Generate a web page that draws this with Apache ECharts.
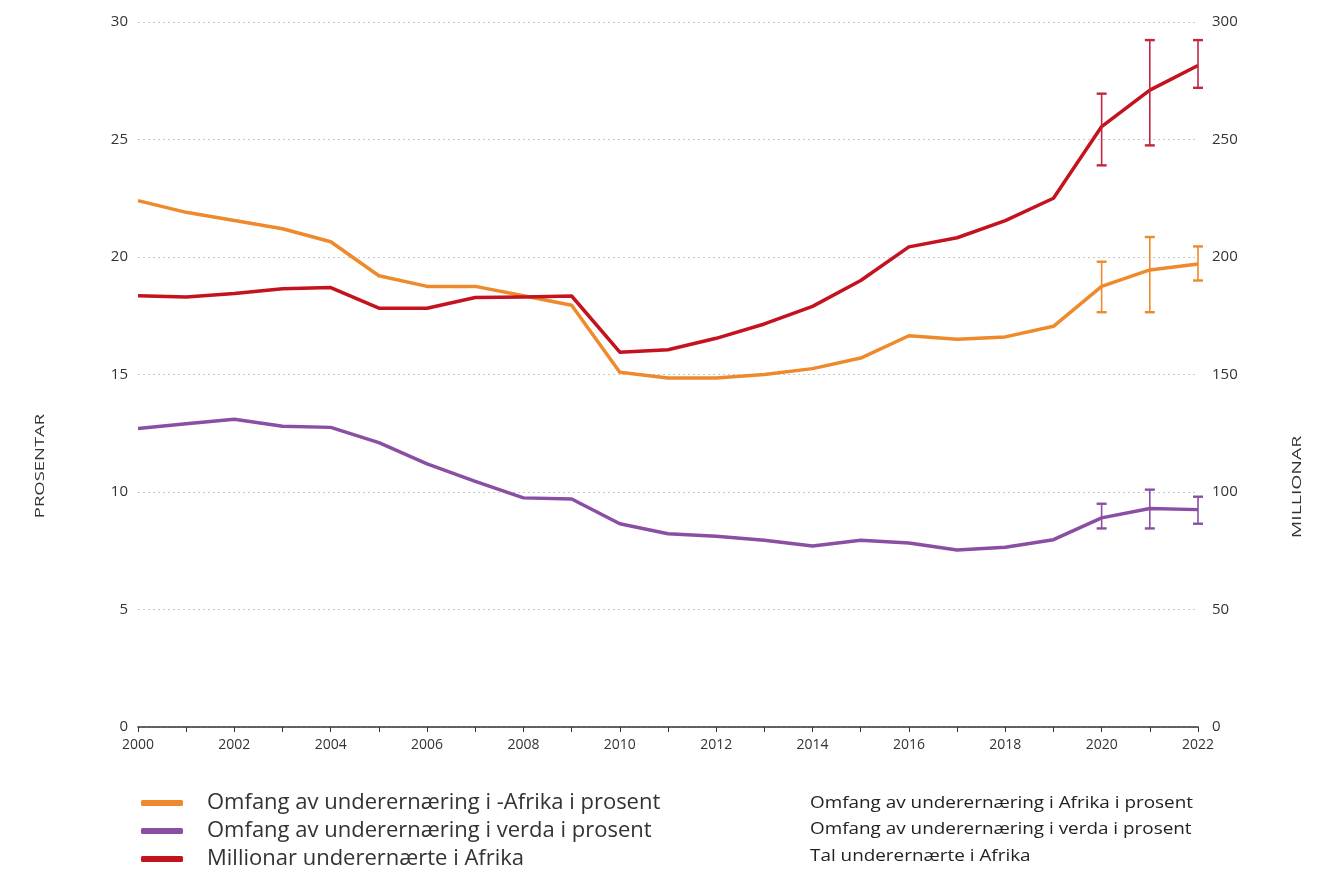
<!DOCTYPE html>
<html>
<head>
<meta charset="utf-8">
<script src="https://cdn.jsdelivr.net/npm/echarts@6/dist/echarts.min.js"></script>
<style>
html,body{margin:0;padding:0;background:#fff;}
#chart{width:1329px;height:874px;}
</style>
</head>
<body>
<div id="chart"></div>
<script>
var years = ['2000','2001','2002','2003','2004','2005','2006','2007','2008','2009','2010','2011','2012','2013','2014','2015','2016','2017','2018','2019','2020','2021','2022'];
var africaPct = [22.4, 21.9, 21.55, 21.2, 20.65, 19.2, 18.75, 18.75, 18.35, 17.95, 15.1, 14.85, 14.85, 15.0, 15.25, 15.7, 16.65, 16.5, 16.6, 17.05, 18.75, 19.45, 19.7];
var worldPct = [12.7, 12.9, 13.1, 12.8, 12.75, 12.1, 11.2, 10.45, 9.75, 9.7, 8.65, 8.22, 8.12, 7.95, 7.7, 7.95, 7.83, 7.53, 7.65, 7.97, 8.9, 9.3, 9.25];
var africaMillions = [183.5, 183, 184.5, 186.5, 187, 178.2, 178.2, 182.8, 183, 183.4, 159.5, 160.5, 165.4, 171.5, 179, 190, 204.3, 208.2, 215.5, 225, 255.5, 271, 281.5];

var errYears = ['2020','2021','2022'];
var africaPctLow = [17.65, 17.65, 19.0];
var africaPctHigh = [19.8, 20.85, 20.45];
var worldPctLow = [8.45, 8.45, 8.65];
var worldPctHigh = [9.5, 10.1, 9.8];
var millionsLow = [239, 247.5, 272];
var millionsHigh = [269.5, 292.3, 292.3];

var leftTicks = {min: 0, max: 30, interval: 5};
var rightTicks = {min: 0, max: 300, interval: 50};

var seriesNames = ['Omfang av underernæring i -Afrika i prosent', 'Omfang av underernæring i verda i prosent', 'Millionar underernærte i Afrika'];
var errNotes = ['Omfang av underernæring i Afrika i prosent', 'Omfang av underernæring i verda i prosent', 'Tal underernærte i Afrika'];
var axisTitles = ['PROSENTAR', 'MILLIONAR'];

var cOrange = '#ee8a2b', cPurple = '#8a4ea3', cRed = '#c4121f';

function errData(low, high) {
  return errYears.map(function (y, i) { return [years.indexOf(y), low[i], high[i]]; });
}
function errSeries(low, high, color, axisIndex) {
  return {
    type: 'custom',
    yAxisIndex: axisIndex,
    z: 5,
    data: errData(low, high),
    renderItem: function (params, api) {
      var x = api.value(0);
      var lo = api.coord([x, api.value(1)]);
      var hi = api.coord([x, api.value(2)]);
      var w = 5;
      return {
        type: 'group',
        children: [
          {type: 'line', shape: {x1: lo[0], y1: lo[1], x2: hi[0], y2: hi[1]}, style: {stroke: color, lineWidth: 1.6}},
          {type: 'line', shape: {x1: lo[0]-w, y1: lo[1], x2: lo[0]+w, y2: lo[1]}, style: {stroke: color, lineWidth: 2.4}},
          {type: 'line', shape: {x1: hi[0]-w, y1: hi[1], x2: hi[0]+w, y2: hi[1]}, style: {stroke: color, lineWidth: 2.4}}
        ]
      };
    }
  };
}

var font = '"Open Sans", "Noto Sans", sans-serif';
var chart = echarts.init(document.getElementById('chart'), null, {renderer: 'canvas'});
chart.setOption({
  animation: false,
  backgroundColor: '#fff',
  textStyle: {fontFamily: font},
  grid: {left: 138, right: 131, top: 22, bottom: 147, containLabel: false},
  xAxis: {
    type: 'category',
    data: years,
    boundaryGap: false,
    axisLine: {lineStyle: {color: '#333', width: 1.6}},
    axisTick: {show: true, interval: 0, length: 5, lineStyle: {color: '#333', width: 1}},
    axisLabel: {interval: 1, color: '#333', fontSize: 14, margin: 11, fontFamily: font}
  },
  yAxis: [
    {
      type: 'value', min: leftTicks.min, max: leftTicks.max, interval: leftTicks.interval,
      axisLine: {show: false}, axisTick: {show: false},
      axisLabel: {color: '#333', fontSize: 15, margin: 10, fontFamily: font},
      splitLine: {show: true, lineStyle: {color: '#c8c8c8', type: [2, 3], width: 1}}
    },
    {
      type: 'value', min: rightTicks.min, max: rightTicks.max, interval: rightTicks.interval,
      position: 'right',
      axisLine: {show: false}, axisTick: {show: false},
      axisLabel: {color: '#333', fontSize: 15, margin: 14, fontFamily: font},
      splitLine: {show: false}
    }
  ],
  legend: {
    data: seriesNames,
    orient: 'vertical',
    left: 141, top: 792,
    padding: 0,
    itemWidth: 42, itemHeight: 6, itemGap: 6,
    icon: 'roundRect',
    textStyle: {color: '#333', fontSize: 22, lineHeight: 22, fontFamily: font, padding: [0, 0, 0, 19]}
  },
  graphic: [
    {type: 'text', x: 40, y: 466, rotation: Math.PI / 2, scaleX: 1.42, style: {text: axisTitles[0], fill: '#333', fontSize: 13, fontFamily: font, align: 'center', verticalAlign: 'middle'}},
    {type: 'text', x: 1297, y: 487, rotation: Math.PI / 2, scaleX: 1.49, style: {text: axisTitles[1], fill: '#333', fontSize: 13, fontFamily: font, align: 'center', verticalAlign: 'middle'}},
    {type: 'text', x: 810, y: 803, scaleX: 1.18, style: {text: errNotes[0], fill: '#222', fontSize: 16, fontFamily: font, verticalAlign: 'middle'}},
    {type: 'text', x: 810, y: 829, scaleX: 1.18, style: {text: errNotes[1], fill: '#222', fontSize: 16, fontFamily: font, verticalAlign: 'middle'}},
    {type: 'text', x: 810, y: 856, scaleX: 1.18, style: {text: errNotes[2], fill: '#222', fontSize: 16, fontFamily: font, verticalAlign: 'middle'}}
  ],
  series: [
    {name: seriesNames[0], type: 'line', yAxisIndex: 0, data: africaPct, showSymbol: false, symbol: 'none', color: cOrange, lineStyle: {width: 3.5, color: cOrange, join: 'round'}, z: 3},
    {name: seriesNames[1], type: 'line', yAxisIndex: 0, data: worldPct, showSymbol: false, symbol: 'none', color: cPurple, lineStyle: {width: 3.5, color: cPurple, join: 'round'}, z: 3},
    {name: seriesNames[2], type: 'line', yAxisIndex: 1, data: africaMillions, showSymbol: false, symbol: 'none', color: cRed, lineStyle: {width: 3.5, color: cRed, join: 'round'}, z: 4},
    errSeries(africaPctLow, africaPctHigh, cOrange, 0),
    errSeries(worldPctLow, worldPctHigh, cPurple, 0),
    errSeries(millionsLow, millionsHigh, '#c3273f', 1)
  ]
});
</script>
</body>
</html>
